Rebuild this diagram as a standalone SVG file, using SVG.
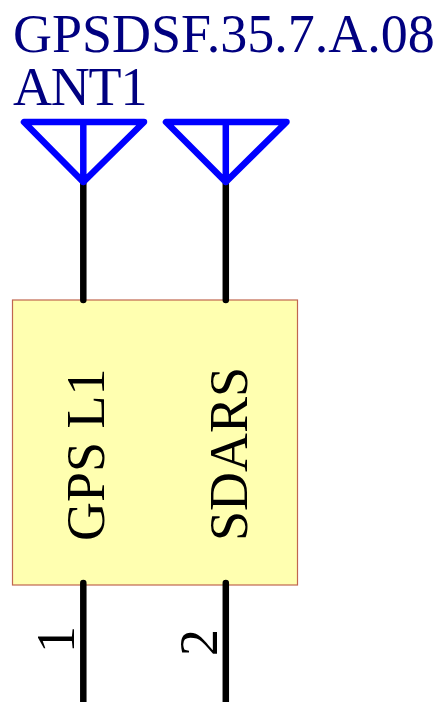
<svg xmlns="http://www.w3.org/2000/svg" width="442" height="702" viewBox="0 0 442 702">
<style>
.t{font-family:"Liberation Serif","Times New Roman",serif;font-size:54px}
.blue{fill:#000080}
.blk{fill:#000}
.w{stroke:#000;stroke-width:6.500;fill:none;stroke-linecap:round}
.a{stroke:#0000ff;stroke-width:6.500;fill:none;stroke-linecap:round;stroke-linejoin:round}
</style>
<rect width="442" height="702" fill="#fff"/>
<g id="body">
<rect x="12.500" y="300" width="285" height="285" fill="#ffffb0" stroke="#c0664f" stroke-width="1.200"/>
<text class="t blk" transform="translate(104,541) rotate(-90)">GPS L1</text>
<text class="t blk" transform="translate(247,541) rotate(-90)">SDARS</text>
</g>
<g id="connectors">
<path class="w" d="M83.300 183V300M225.800 183V300M83.300 583V702M225.800 583V702"/>
</g>
<g id="labels">
<text class="t blue" x="13" y="52">GPSDSF.35.7.A.08</text>
<text class="t blue" x="13" y="105" style="letter-spacing:-1.200px">ANT1</text>
</g>
<g id="ant1">
<path class="a" d="M24 122H144L83.300 182ZM83.300 122V182"/>
</g>
<g id="ant2">
<path class="a" d="M166 122H286.500L225.800 182ZM225.800 122V182"/>
</g>
<g id="pins">
<text class="t blk" transform="translate(74,653) rotate(-90)">1</text>
<text class="t blk" transform="translate(217,656) rotate(-90)">2</text>
</g>
</svg>
